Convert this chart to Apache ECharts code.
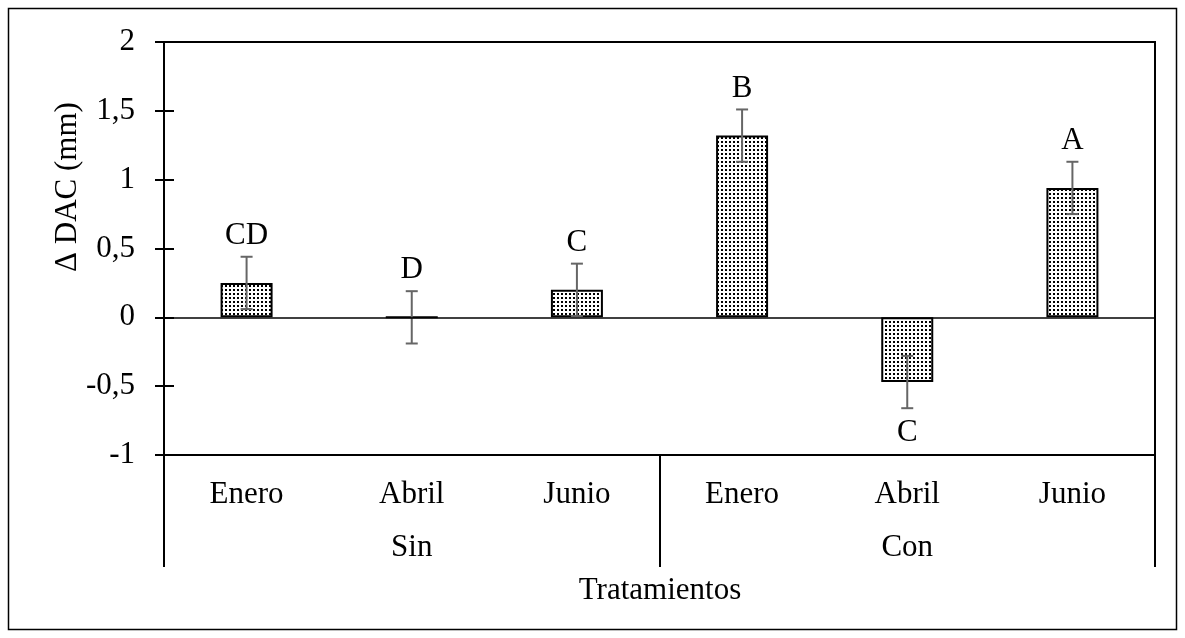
<!DOCTYPE html>
<html>
<head>
<meta charset="utf-8">
<script src="https://cdn.jsdelivr.net/npm/echarts@6/dist/echarts.min.js"></script>
<style>
  html, body { margin: 0; padding: 0; background: #fff; }
  #chart { width: 1185px; height: 638px; }
</style>
</head>
<body>
<div id="chart"></div>
<script>
// Monthly categories, nested inside two treatment groups
const months = ['Enero', 'Abril', 'Junio', 'Enero', 'Abril', 'Junio'];
const groups = ['Sin', 'Con'];
// Mean change in diameter (mm) and its error
const meanValues = [0.25, 0, 0.2, 1.32, -0.47, 0.94];
const errValues = [0.19, 0.19, 0.19, 0.19, 0.19, 0.19];
// Significance letters
const letters = ['CD', 'D', 'C', 'B', 'C', 'A'];
const yTicks = { min: -1, max: 2, interval: 0.5 };

const FONT = '"Liberation Serif", "Times New Roman", serif';
const FS = 31;

// Dotted fill pattern for the bars
function dotPattern() {
  const c = document.createElement('canvas');
  c.width = 4; c.height = 4;
  const ctx = c.getContext('2d');
  ctx.fillStyle = '#fff';
  ctx.fillRect(0, 0, 4, 4);
  ctx.fillStyle = '#000';
  ctx.fillRect(1, 1, 2, 2);
  return c;
}

const chart = echarts.init(document.getElementById('chart'), null, { renderer: 'canvas' });

const errData = meanValues.map((v, i) => [i, v, errValues[i]]);

const option = {
  animation: false,
  backgroundColor: '#fff',
  grid: {
    left: 164, right: 30, top: 42, bottom: 183,
    show: true, borderColor: '#000', borderWidth: 2, backgroundColor: 'transparent'
  },
  xAxis: [
    {
      type: 'category', data: months, position: 'bottom',
      axisLine: { show: false, onZero: false }, axisTick: { show: false },
      axisLabel: { margin: 24, color: '#000', fontFamily: FONT, fontSize: FS }
    },
    {
      type: 'category', data: groups, position: 'bottom',
      axisLine: { show: false, onZero: false },
      axisTick: { show: true, length: 112, lineStyle: { color: '#000', width: 2 } },
      axisLabel: { margin: 77, color: '#000', fontFamily: FONT, fontSize: FS }
    }
  ],
  yAxis: [
    {
      type: 'value', min: yTicks.min, max: yTicks.max, interval: yTicks.interval,
      axisLine: { show: true, lineStyle: { color: '#000', width: 2 } },
      axisTick: { show: true, length: 9, lineStyle: { color: '#000', width: 2 } },
      splitLine: { show: false },
      axisLabel: {
        margin: 29, color: '#000', fontFamily: FONT, fontSize: FS,
        formatter: v => String(v).replace('.', ',')
      }
    },
    {
      type: 'value', min: yTicks.min, max: yTicks.max, interval: yTicks.interval,
      position: 'left',
      axisLine: { show: false },
      axisTick: { show: true, inside: true, length: 10, lineStyle: { color: '#000', width: 2 } },
      splitLine: { show: false },
      axisLabel: { show: false }
    }
  ],
  series: [
    {
      type: 'bar',
      data: meanValues,
      barWidth: 52,
      itemStyle: {
        color: { image: dotPattern(), repeat: 'repeat' },
        borderColor: '#000', borderWidth: 2
      },
      markLine: {
        silent: true, symbol: 'none', label: { show: false },
        lineStyle: { color: '#000', width: 1.5, type: 'solid' },
        data: [{ yAxis: 0 }]
      },
      z: 2
    },
    {
      type: 'custom',
      data: errData,
      z: 3,
      renderItem: function (params, api) {
        const i = api.value(0);
        const m = api.value(1);
        const e = api.value(2);
        const letter = letters[params.dataIndex];
        const top = api.coord([i, m + e]);
        const bot = api.coord([i, m - e]);
        const half = 6;
        const ls = { stroke: '#666', lineWidth: 2 };
        const below = m < 0;
        const ly = below ? bot[1] + 25 : top[1] - 21;
        return {
          type: 'group',
          children: [
            { type: 'line', shape: { x1: top[0], y1: top[1], x2: bot[0], y2: bot[1] }, style: ls },
            { type: 'line', shape: { x1: top[0] - half, y1: top[1], x2: top[0] + half, y2: top[1] }, style: ls },
            { type: 'line', shape: { x1: bot[0] - half, y1: bot[1], x2: bot[0] + half, y2: bot[1] }, style: ls },
            {
              type: 'text', x: top[0], y: ly,
              style: { text: letter, fill: '#000', font: FS + 'px ' + FONT, align: 'center', verticalAlign: 'middle' }
            }
          ]
        };
      }
    }
  ],
  graphic: [
    {
      type: 'rect', silent: true,
      shape: { x: 8.5, y: 8.5, width: 1168, height: 621 },
      style: { fill: 'none', stroke: '#000', lineWidth: 1.5 }
    },
    {
      type: 'text', x: 68, y: 187, rotation: Math.PI / 2,
      style: { text: 'Δ DAC (mm)', fill: '#000', font: FS + 'px ' + FONT, align: 'center', verticalAlign: 'middle' }
    },
    {
      type: 'text', x: 660, y: 591,
      style: { text: 'Tratamientos', fill: '#000', font: FS + 'px ' + FONT, align: 'center', verticalAlign: 'middle' }
    }
  ]
};

chart.setOption(option);
</script>
</body>
</html>
